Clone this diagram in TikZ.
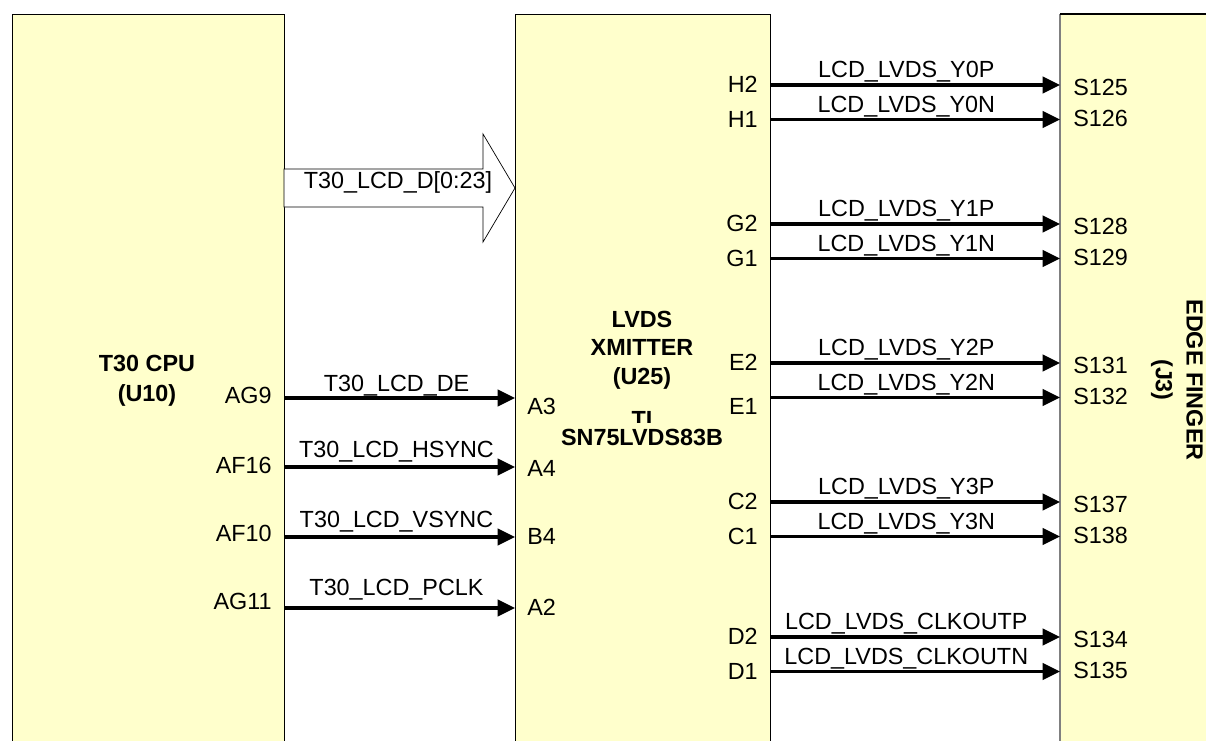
\documentclass[tikz,border=0pt]{standalone}
\usepackage{fontspec}
\setmainfont{Liberation Sans}
\usetikzlibrary{arrows.meta}
\definecolor{chipyellow}{RGB}{255,255,204}
\tikzset{
  chip/.style={draw=black, line width=0.6pt, fill=chipyellow, inner sep=0pt, anchor=north west},
  sig/.style={line width=1.8pt, -{Triangle[length=0.35cm,width=0.33cm]}},
  pinlbl/.style={inner sep=0pt, font=\fontsize{13.3}{16}\selectfont},
  netlbl/.style={inner sep=0pt, anchor=base, font=\fontsize{13.3}{16}\selectfont},
  chiplbl/.style={inner sep=0pt, align=center, font=\bfseries\fontsize{13.3}{#1}\selectfont},
  bus/.style={draw=black, line width=0.4pt, fill=white}
}

\begin{document}
\begin{tikzpicture}[x=0.02cm,y=-0.02cm]
\useasboundingbox (0,0) rectangle (1206,740);
\clip (0,0) rectangle (1206,740);
\node[chip, minimum width=5.44cm, minimum height=14.8cm] (cpu) at (12,14) {};
\node[chip, minimum width=5.1cm, minimum height=14.8cm] (lvds) at (515,14) {};
\node[chip, draw=none, minimum width=3.4cm, minimum height=14.8cm] (edge) at (1060,14) {};
\draw[gray, line width=0.6pt] (edge.south west) -- (edge.north west);
\draw[line width=0.6pt] (edge.north west) -- (edge.north east);

\node[chiplbl=17pt] (cputxt) at (147,381) {T30 CPU\\(U10)};
\node[chiplbl=16.2pt] (lvdstxt) at (642,350) {LVDS\\XMITTER\\(U25)};
\node[chiplbl=16pt, anchor=base] (ti) at (642,427) {TI};
\node[chiplbl=16pt, anchor=base, fill=chipyellow, inner ysep=3.4pt] (partno) at (642,445) {SN75LVDS83B};
\node[chiplbl=17.6pt, rotate=-90] (edgetxt) at (1177,380) {EDGE FINGER\\(J3)};

\coordinate (busA) at (284,188);
\draw[bus] (busA) ++(0,-19) -- ++(199,0) -- ++(0,-35) -- ++(32,54) -- ++(-32,54) -- ++(0,-35) -- ++(-199,0) -- cycle;
\node[netlbl] (bustxt) at (398,188) {T30\_LCD\_D[0:23]};

\foreach \pa/\pb/\net/\y/\dl/\dr/\dn in {AG9/A3/DE/398/-3/8/7, AF16/A4/HSYNC/467/-2/1/10, AF10/B4/VSYNC/537/-4/-1/10, AG11/A2/PCLK/608/-7/-1/13}
{
\coordinate (\pa) at (284,\y);
\coordinate (\pb) at (515,\y);
\draw[sig] (\pa) -- (\pb) node[netlbl, pos=0.487, yshift=\dn*0.02cm] {T30\_LCD\_\net};
\node[pinlbl, anchor=east] (\pa txt) at ([shift={(-12,\dl)}]\pa) {\pa};
\node[pinlbl, anchor=west] (\pb txt) at ([shift={(12,\dr)}]\pb) {\pb};
}

\foreach \pa/\pb/\sa/\sb/\net/\y/\de in {H2/H1/S125/S126/Y0/85/0, G2/G1/S128/S129/Y1/224/0, E2/E1/S131/S132/Y2/363/9, C2/C1/S137/S138/Y3/502/0, D2/D1/S134/S135/CLKOUT/637/0}
{
\coordinate (\pa) at (770,\y);
\coordinate (\sa) at (1060,\y);
\coordinate (\pb) at (770,\y+34.5);
\coordinate (\sb) at (1060,\y+34.5);
\draw[sig] (\pa) -- (\sa) node[netlbl, pos=0.47, yshift=7.5*0.02cm] {LCD\_LVDS\_\net P};
\draw[sig] (\pb) -- (\sb) node[netlbl, pos=0.47, yshift=7*0.02cm] {LCD\_LVDS\_\net N};
\node[pinlbl, anchor=east] (\pa txt) at ([shift={(-12,-1)}]\pa) {\pa};
\node[pinlbl, anchor=east] (\pb txt) at ([shift={(-12,\de)}]\pb) {\pb};
\node[pinlbl, anchor=west] (\sa txt) at ([shift={(13,2)}]\sa) {\sa};
\node[pinlbl, anchor=west] (\sb txt) at ([shift={(13,-1)}]\sb) {\sb};
}

\end{tikzpicture}
\end{document}
